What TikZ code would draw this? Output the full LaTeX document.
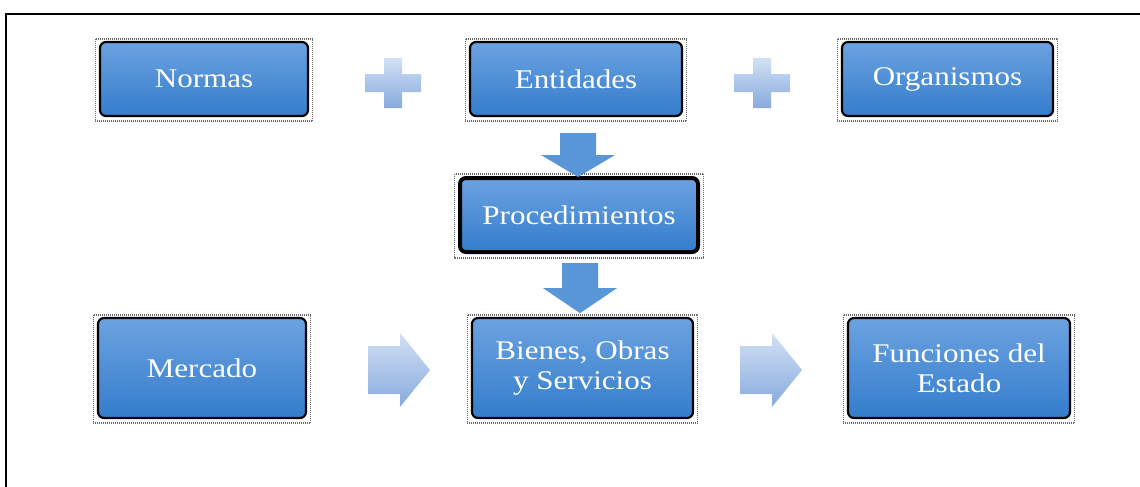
\documentclass[tikz,border=0pt]{standalone}
\usepackage{fontspec}
\setmainfont{Liberation Serif}[FakeStretch=1.15]
\definecolor{boxtop}{RGB}{108,162,224}
\definecolor{boxbot}{RGB}{52,125,204}
\definecolor{downfill}{RGB}{88,150,215}
\definecolor{lighttop}{RGB}{210,224,244}
\definecolor{lightbot}{RGB}{135,170,222}
\tikzset{
  box/.style={draw=black, line width=2.2pt, rounded corners=6pt, top color=boxtop, bottom color=boxbot,
    text=white, font=\fontsize{27}{30}\selectfont, align=center, inner sep=0pt},
  halo/.style={draw=black!60, line width=1.3pt, dash pattern=on 0.7pt off 1.3pt},
  downarr/.pic={\fill[downfill] (-18,0) -- (18,0) -- (18,22) -- (37,22) -- (0,44) -- (-37,22) -- (-18,22) -- cycle;},
  rightarr/.pic={\shade[top color=lighttop, bottom color=lightbot] (0,-24) -- (32,-24) -- (32,-37) -- (62,0) -- (32,37) -- (32,24) -- (0,24) -- cycle;},
  plussign/.pic={\shade[top color=lighttop, bottom color=lightbot] (-9,-25) -- (9,-25) -- (9,-9) -- (28,-9) -- (28,9) -- (9,9) -- (9,25) -- (-9,25) -- (-9,9) -- (-28,9) -- (-28,-9) -- (-9,-9) -- cycle;}
}
\begin{document}
\begin{tikzpicture}[x=1pt,y=-1pt]
\useasboundingbox (0,0) rectangle (1140,487);
\draw[line width=2.5pt] (6,520) -- (6,14) -- (1180,14);

\node[box, minimum width=208pt, minimum height=74pt] (normas) at (204,79) {Normas};
\node[box, minimum width=212pt, minimum height=74pt] (entidades) at (576,79) {Entidades};
\node[box, minimum width=211pt, minimum height=74pt] (organismos) at (947.5,79) {Organismos};
\node[box, line width=4pt, minimum width=238pt, minimum height=74pt] (proc) at (579,215) {Procedimientos};
\node[box, minimum width=208pt, minimum height=100pt] (mercado) at (202,368) {Mercado};
\node[box, minimum width=221pt, minimum height=100pt] (bienes) at (582.5,368) {Bienes, Obras\\y Servicios};
\node[box, minimum width=222pt, minimum height=100pt] (funciones) at (959,368) {Funciones del\\Estado};

\foreach \n in {normas,entidades,organismos,proc,mercado,bienes,funciones}
  \draw[halo] ([xshift=-3.5pt,yshift=2pt]\n.north west) rectangle ([xshift=3.5pt,yshift=-4pt]\n.south east);

\pic (plusa) at (393,83) {plussign};
\pic (plusb) at (762,83) {plussign};
\pic (downa) at (578,133) {downarr};
\pic[yscale=1.14] (downb) at (580,263) {downarr};
\pic (righta) at (368,370) {rightarr};
\pic (rightb) at (740,370) {rightarr};
\end{tikzpicture}
\end{document}
